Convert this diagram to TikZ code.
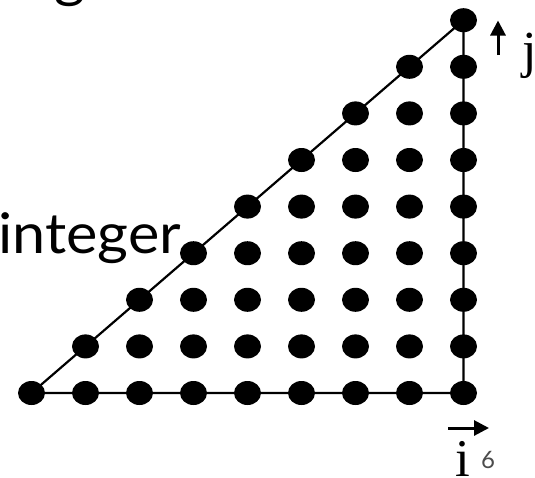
\documentclass[tikz,border=0pt]{standalone}
\usepackage{fontspec}
\setmainfont{Liberation Serif}
\newfontfamily\labelsans{Lato}
\usetikzlibrary{arrows.meta,backgrounds,shapes.geometric}
\tikzset{
  dotnode/.style={ellipse, fill=black, minimum width=27pt, minimum height=24pt, inner sep=0pt},
  edge/.style={line width=2.2pt},
  vecarrow/.style={line width=3pt, -{Triangle[width=15pt,length=15pt]}},
  txt/.style={inner sep=0pt, anchor=base west},
  bigsans/.style={font=\labelsans\fontsize{56}{60}\selectfont, xscale=1.06, transform shape},
}
\begin{document}
\begin{tikzpicture}[x=1pt,y=-1pt]
\useasboundingbox (0,0) rectangle (535,477);
\foreach \i in {0,...,8}{
  \foreach \j in {0,...,\i}{
    \node[dotnode] (d-\i-\j) at ({31.5+54*\i},{393-46.6*\j}) {};
  }
}
\begin{scope}[on background layer]
  \draw[edge] (d-0-0.center) -- (d-8-0.center) -- (d-8-8.center) -- cycle;
\end{scope}
\node[txt, bigsans] (lint) at (-2,253.3) {integer};
\node[txt, bigsans] (ltop) at (54,-4) {g};
\coordinate (ja) at (498,55);
\coordinate (jb) at (498,20.5);
\draw[vecarrow] (ja) -- (jb);
\node[txt, font=\fontsize{52}{60}\selectfont] (lj) at (522,67) {j};
\coordinate (ia) at (448,428);
\coordinate (ib) at (489,428);
\draw[vecarrow] (ia) -- (ib);
\node[txt, font=\fontsize{53}{60}\selectfont] (li) at (455,476) {i};
\node[txt, text=black!70, font=\labelsans\fontsize{24}{26}\selectfont] (l6) at (481,468) {6};
\end{tikzpicture}
\end{document}
